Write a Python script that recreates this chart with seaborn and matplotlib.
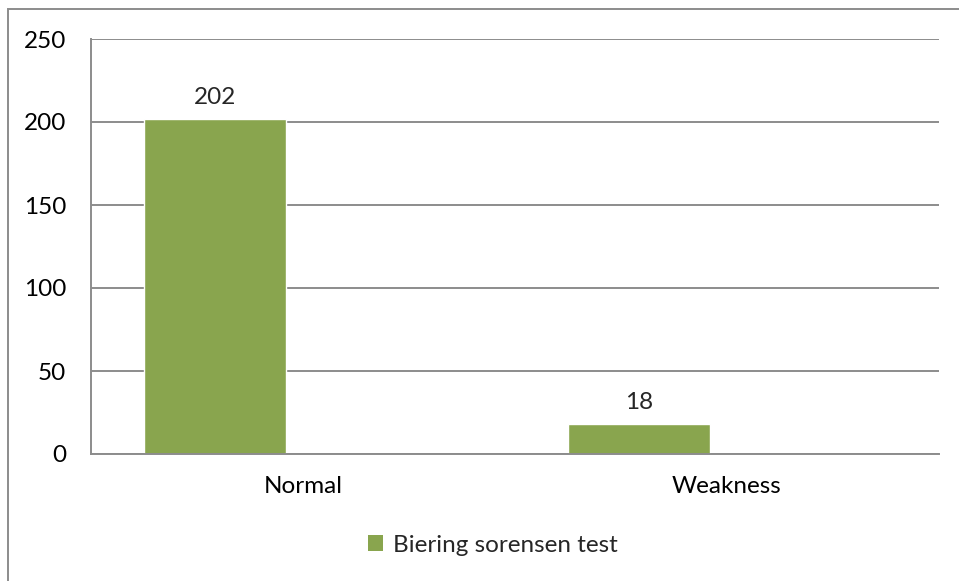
import pandas as pd
import seaborn as sns
import matplotlib.pyplot as plt
from matplotlib.patches import Rectangle, Patch

# Chart data
categories = ["Normal", "Weakness"]
counts = [202, 18]
series_name = "Biering sorensen test"
y_ticks = [0, 50, 100, 150, 200, 250]

df = pd.DataFrame({"group": categories, "count": counts, "series": series_name})

sns.set_style("white")
plt.rcParams["font.family"] = ["Lato", "DejaVu Sans"]

bar_color = "#89a54e"
grid_color = "#8c8c8c"
fs = 17.5

fig = plt.figure(figsize=(9.59, 5.81), dpi=100)
ax = fig.add_axes([91 / 959, 1 - 454 / 581, 848 / 959, 415 / 581])

# Excel-style clustered bars: one real series plus an empty slot on the right
sns.barplot(
    data=df,
    x="group",
    y="count",
    hue="series",
    hue_order=[series_name, " "],
    palette=[bar_color, bar_color],
    dodge=True,
    width=0.83,
    gap=0.19,
    saturation=1,
    legend=False,
    ax=ax,
)

ax.set_ylim(0, 250)
ax.set_xlim(-0.5, 1.5)
ax.set_yticks(y_ticks)
ax.set_xlabel("")
ax.set_ylabel("")
ax.yaxis.grid(True, color=grid_color, lw=1.4)
ax.set_axisbelow(True)
for side in ["top", "right"]:
    ax.spines[side].set_visible(False)
for side in ["left", "bottom"]:
    ax.spines[side].set_color(grid_color)
    ax.spines[side].set_linewidth(1.4)
ax.tick_params(axis="both", length=0, labelsize=fs, colors="black")
ax.tick_params(axis="y", pad=18)
ax.tick_params(axis="x", pad=16)

# Value labels above bars
for container in ax.containers:
    ax.bar_label(container, padding=8, fontsize=fs)

# Legend below the plot
handles = [Patch(facecolor=bar_color, edgecolor="none", label=series_name)]
fig.legend(
    handles=handles,
    loc="center",
    bbox_to_anchor=(493 / 959, 1 - 545 / 581),
    frameon=False,
    fontsize=fs,
    handlelength=0.6,
    handleheight=0.6,
    handletextpad=0.4,
)

# Chart area border (partially cropped)
fig.patches.append(
    Rectangle(
        (8 / 959, -0.05), 1.1, 1.05 - 9 / 581,
        transform=fig.transFigure, fill=False, edgecolor=grid_color, lw=1.4,
    )
)

fig.savefig("out.png", dpi=100)
